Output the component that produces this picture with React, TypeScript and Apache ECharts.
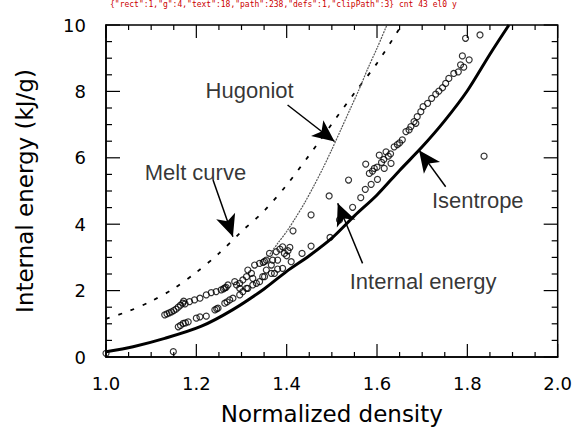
import React, { useEffect, useRef, useState } from "react";
import * as echarts from "echarts";

// Isentrope (thick solid line)
const isentrope: [number, number][] = [
  [1.0, 0.16], [1.06, 0.31], [1.13, 0.56], [1.21, 0.92], [1.28, 1.42],
  [1.35, 2.05], [1.4, 2.58], [1.45, 3.05], [1.5, 3.58], [1.55, 4.25],
  [1.6, 4.88], [1.65, 5.62], [1.7, 6.33], [1.75, 7.12], [1.8, 8.02],
  [1.85, 9.12], [1.892, 10.0],
];

// Melt curve (dashed)
const meltCurve: [number, number][] = [
  [1.0, 1.15], [1.05, 1.38], [1.1, 1.68], [1.15, 2.06], [1.2, 2.55],
  [1.25, 3.12], [1.3, 3.78], [1.35, 4.4], [1.4, 5.18], [1.45, 6.08],
  [1.5, 7.02], [1.55, 7.95], [1.6, 8.85], [1.65, 9.9],
];

// Hugoniot (thin dotted)
const hugoniot: [number, number][] = [
  [1.355, 2.95], [1.38, 3.42], [1.4, 3.78], [1.42, 4.2], [1.44, 4.65],
  [1.46, 5.15], [1.48, 5.68], [1.5, 6.25], [1.52, 6.85], [1.54, 7.45],
  [1.56, 8.05], [1.58, 8.7], [1.6, 9.3], [1.622, 10.0],
];

// Measured internal energy (open circles)
const measured: [number, number][] = [
  [1.0, 0.11], [1.149, 0.16],
  [1.13, 1.27], [1.135, 1.3], [1.14, 1.33], [1.145, 1.36], [1.15, 1.4],
  [1.155, 1.44], [1.16, 1.5], [1.165, 1.56], [1.17, 1.62], [1.172, 1.68],
  [1.175, 1.6], [1.185, 1.67], [1.196, 1.72], [1.208, 1.77], [1.222, 1.87],
  [1.233, 1.94], [1.244, 1.97], [1.255, 2.02], [1.26, 2.05], [1.263, 2.08],
  [1.266, 2.1], [1.27, 2.17], [1.285, 2.27], [1.296, 2.22], [1.311, 2.42],
  [1.322, 2.52], [1.329, 2.77], [1.34, 2.82], [1.348, 2.85], [1.351, 2.88],
  [1.355, 2.92], [1.362, 3.12], [1.377, 3.17], [1.385, 3.25], [1.391, 3.32],
  [1.395, 3.12], [1.4, 3.05], [1.403, 3.2], [1.407, 3.3],
  [1.16, 0.91], [1.165, 0.95], [1.171, 1.01], [1.176, 1.03], [1.182, 1.06],
  [1.2, 1.17], [1.208, 1.21], [1.222, 1.23], [1.241, 1.42], [1.245, 1.45],
  [1.248, 1.47], [1.263, 1.62], [1.268, 1.66], [1.274, 1.72], [1.281, 1.77],
  [1.296, 1.87], [1.303, 1.97], [1.314, 2.07], [1.325, 2.17], [1.34, 2.27],
  [1.351, 2.42], [1.366, 2.52], [1.38, 2.65], [1.391, 2.67], [1.41, 2.87],
  [1.289, 2.17], [1.296, 2.07], [1.303, 2.32], [1.311, 2.07], [1.314, 2.62],
  [1.325, 2.37], [1.333, 2.22], [1.347, 2.42], [1.355, 2.62], [1.366, 2.77],
  [1.369, 2.92], [1.373, 2.52], [1.38, 2.92],
  [1.414, 3.8], [1.434, 3.12], [1.454, 4.28], [1.454, 3.34], [1.494, 4.85],
  [1.496, 3.6], [1.517, 4.13], [1.537, 5.33], [1.546, 4.51], [1.564, 4.8],
  [1.574, 5.05], [1.575, 5.81], [1.583, 5.53], [1.587, 5.2], [1.59, 5.6],
  [1.594, 5.68], [1.6, 5.72], [1.601, 5.35], [1.605, 6.08], [1.61, 5.86],
  [1.615, 5.95], [1.616, 5.68], [1.62, 6.18], [1.625, 6.05], [1.63, 6.12],
  [1.631, 5.83], [1.638, 6.33], [1.645, 6.4], [1.65, 6.45], [1.656, 6.54],
  [1.664, 6.79], [1.671, 6.84], [1.675, 6.94], [1.682, 7.09], [1.686, 7.04],
  [1.689, 7.24], [1.697, 7.39], [1.702, 7.54], [1.712, 7.64], [1.721, 7.79],
  [1.73, 7.92], [1.737, 8.01], [1.745, 8.11], [1.752, 8.24], [1.759, 8.39],
  [1.77, 8.54], [1.78, 8.59], [1.785, 8.8], [1.789, 9.07], [1.792, 8.73],
  [1.796, 9.6], [1.804, 8.95], [1.828, 9.7], [1.837, 6.05],
];

const annotationNames = ["Hugoniot", "Melt curve", "Isentrope", "Internal energy"];
const annotationPos: [number, number][] = [
  [1.318, 8.04], [1.198, 5.57], [1.823, 4.7], [1.702, 2.26],
];

const arrows: [[number, number], [number, number]][] = [
  [[1.402, 7.59], [1.506, 6.49]],
  [[1.237, 5.33], [1.281, 3.62]],
  [[1.752, 5.13], [1.693, 6.23]],
  [[1.568, 2.82], [1.513, 4.63]],
];

const X_MIN = 1;
const X_MAX = 2;
const Y_MIN = 0;
const Y_MAX = 10;
const xMajorTicks = [1.0, 1.2, 1.4, 1.6, 1.8, 2.0];
const xMinorTicks = [1.05, 1.1, 1.15, 1.25, 1.3, 1.35, 1.45, 1.5, 1.55, 1.65, 1.7, 1.75, 1.85, 1.9, 1.95];
const yMajorTicks = [0, 2, 4, 6, 8, 10];
const yMinorTicks = [0.5, 1, 1.5, 2.5, 3, 3.5, 4.5, 5, 5.5, 6.5, 7, 7.5, 8.5, 9, 9.5];

const LABEL_FONT = "DejaVu Sans";
const ANNO_FONT = "Liberation Sans";

export default function App() {
  const ref = useRef<HTMLDivElement>(null);
  const [diag, setDiag] = useState("");

  useEffect(() => {
    document.body.style.margin = "0";
    if (!ref.current) return;
    const errs: string[] = [];
    const onErr = (ev: ErrorEvent) => errs.push("WE " + String(ev.message).slice(0, 160));
    window.addEventListener("error", onErr);
    const origCE = console.error;
    console.error = (...a: any[]) => {
      errs.push("CE " + a.map((x) => String(x && x.message ? x.message : x)).join(" ").slice(0, 160));
      origCE(...a);
    };

    const chart = echarts.init(ref.current, undefined, { renderer: "svg" });

    const tickData: [number, number][] = [
      ...xMajorTicks.map((v) => [0, v] as [number, number]),
      ...xMinorTicks.map((v) => [1, v] as [number, number]),
      ...yMajorTicks.map((v) => [2, v] as [number, number]),
      ...yMinorTicks.map((v) => [3, v] as [number, number]),
      [4, 0],
    ];

    const renderTicks = (_params: any, api: any) => {
      const kind = api.value(0);
      const v = api.value(1);
      const style = { stroke: "#000", lineWidth: 1.2 };
      if (kind === 4) {
        const tl = api.coord([X_MIN, Y_MAX]);
        const br = api.coord([X_MAX, Y_MIN]);
        return {
          type: "rect",
          shape: { x: tl[0], y: tl[1], width: br[0] - tl[0], height: br[1] - tl[1] },
          style: { fill: "none", stroke: "#000", lineWidth: 1.5 },
        };
      }
      if (kind === 0 || kind === 1) {
        const len = kind === 0 ? 13 : 5;
        const b = api.coord([v, Y_MIN]);
        const t = api.coord([v, Y_MAX]);
        return {
          type: "group",
          children: [
            { type: "line", shape: { x1: b[0], y1: b[1], x2: b[0], y2: b[1] - len }, style },
            { type: "line", shape: { x1: t[0], y1: t[1], x2: t[0], y2: t[1] + len }, style },
          ],
        };
      }
      const len = kind === 2 ? 14 : 6;
      const l = api.coord([X_MIN, v]);
      const r = api.coord([X_MAX, v]);
      return {
        type: "group",
        children: [
          { type: "line", shape: { x1: l[0], y1: l[1], x2: l[0] + len, y2: l[1] }, style },
          { type: "line", shape: { x1: r[0], y1: r[1], x2: r[0] - len, y2: r[1] }, style },
        ],
      };
    };

    try {
      chart.setOption({
        animation: false,
        grid: { left: 106, right: 16, top: 25, bottom: 74 },
        xAxis: {
          type: "value",
          min: X_MIN,
          max: X_MAX,
          interval: 0.2,
          axisLine: { show: true, onZero: false, lineStyle: { color: "#000", width: 1.5 } },
          axisTick: { show: false },
          minorTick: { show: false },
          splitLine: { show: false },
          axisLabel: {
            show: true,
            formatter: (v: number) => v.toFixed(1),
            fontFamily: LABEL_FONT,
            fontSize: 18,
            color: "#000",
            margin: 17,
          },
          name: "Normalized density",
          nameLocation: "middle",
          nameGap: 45,
          nameTextStyle: { fontFamily: LABEL_FONT, fontSize: 23, color: "#000" },
        },
        yAxis: {
          type: "value",
          min: Y_MIN,
          max: Y_MAX,
          interval: 2,
          axisLine: { show: true, onZero: false, lineStyle: { color: "#000", width: 1.5 } },
          axisTick: { show: false },
          minorTick: { show: false },
          splitLine: { show: false },
          axisLabel: {
            show: true,
            formatter: (v: number) => String(v),
            fontFamily: LABEL_FONT,
            fontSize: 18,
            color: "#000",
            margin: 20,
          },
          name: "Internal energy (kJ/g)",
          nameLocation: "middle",
          nameGap: 70,
          nameTextStyle: { fontFamily: LABEL_FONT, fontSize: 23, color: "#000" },
        },
        series: [
          {
            name: "frame",
            type: "custom",
            data: tickData,
            renderItem: renderTicks,
            clip: false,
            silent: true,
            z: 5,
          },
          {
            name: "Isentrope",
            type: "line",
            data: isentrope,
            smooth: 0.3,
            symbol: "none",
            lineStyle: { color: "#000", width: 3 },
            silent: true,
            markLine: {
              silent: true,
              symbol: ["none", "arrow"],
              symbolSize: [15, 22],
              label: { show: false },
              lineStyle: { color: "#000", width: 1.5, type: "solid" },
              data: arrows.map(([a, b]) => [{ coord: a }, { coord: b }]),
            },
          },
          {
            name: "Melt curve",
            type: "line",
            data: meltCurve,
            smooth: 0.3,
            symbol: "none",
            lineStyle: { color: "#000", width: 1.8, type: [4, 9] },
            silent: true,
          },
          {
            name: "Hugoniot",
            type: "line",
            data: hugoniot,
            smooth: 0.3,
            symbol: "none",
            lineStyle: { color: "#555", width: 1.2, type: [2, 1] },
            silent: true,
          },
          {
            name: "Internal energy",
            type: "scatter",
            data: measured,
            symbol: "circle",
            symbolSize: 6,
            itemStyle: { color: "rgba(0,0,0,0)", borderColor: "#000", borderWidth: 1.2 },
            silent: true,
          },
          {
            name: "labels",
            type: "scatter",
            data: annotationNames.map((n, i) => ({ name: n, value: annotationPos[i] })),
            symbolSize: 1,
            itemStyle: { color: "rgba(0,0,0,0)" },
            label: {
              show: true,
              position: "inside",
              formatter: "{b}",
              fontFamily: ANNO_FONT,
              fontSize: 22,
              color: "#000",
            },
            silent: true,
          },
        ],
      });
    } catch (e: any) {
      errs.push("TC " + String(e && e.message ? e.message : e).slice(0, 160));
    }

    const t = setTimeout(() => {
      let msg = "";
      try {
        const svg = ref.current!.querySelector("svg");
        const tags: Record<string, number> = {};
        svg?.querySelectorAll("*").forEach((el) => {
          tags[el.tagName] = (tags[el.tagName] || 0) + 1;
        });
        msg += JSON.stringify(tags);
        const model: any = (chart as any).getModel();
        const cs = model.getSeriesByType("custom")[0];
        const d = cs ? cs.getData() : null;
        msg += " cnt " + (d ? d.count() : "none") + " el0 " + (d && d.getItemGraphicEl(0) ? "y" : "n");
      } catch (e: any) {
        msg += " D " + String(e && e.message ? e.message : e).slice(0, 120);
      }
      if (errs.length) msg += " | " + errs.join(" | ");
      setDiag(msg);
    }, 250);

    return () => {
      clearTimeout(t);
      window.removeEventListener("error", onErr);
      console.error = origCE;
      chart.dispose();
    };
  }, []);

  return (
    <div style={{ position: "relative", width: 575, height: 431 }}>
      <div ref={ref} style={{ width: 575, height: 431 }} />
      <div style={{ position: "absolute", left: 110, top: 0, width: 460, fontSize: 8, lineHeight: "9px", color: "#c00", fontFamily: "DejaVu Sans Mono" }}>{diag}</div>
    </div>
  );
}
